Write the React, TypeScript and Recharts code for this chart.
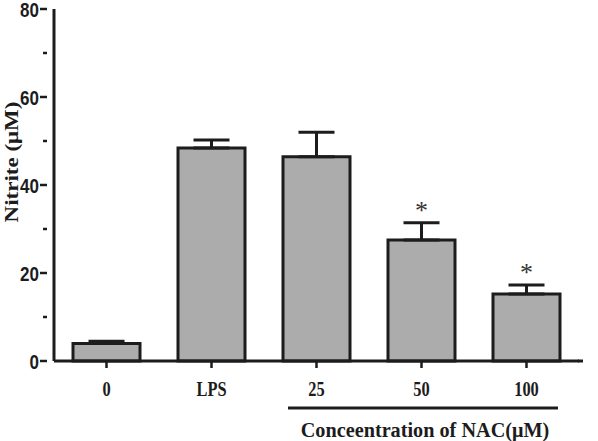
import React from 'react';
import { ComposedChart, Bar, ErrorBar, Line, XAxis, YAxis } from 'recharts';

const categories = ['0', 'LPS', '25', '50', '100'];
const means = [4.0, 48.4, 46.4, 27.5, 15.2];
const sems = [0.5, 1.8, 5.6, 3.9, 2.1];
const significant = [false, false, false, true, true];
const yTicks = [0, 10, 20, 30, 40, 50, 60, 70, 80];
const yLabelTicks = [0, 20, 40, 60, 80];

const data = categories.map((c, i) => ({
  name: c,
  mean: means[i],
  err: [0, sems[i]],
  star: significant[i] ? means[i] + sems[i] : null,
}));

const INK = '#1c1c1c';
const SERIF = "'Liberation Serif', 'Times New Roman', serif";
const SANS = "'Liberation Sans', Arial, sans-serif";

const YTick = (props: any) => {
  const { x, y, payload } = props;
  const major = yLabelTicks.includes(payload.value);
  return (
    <g>
      <line x1={x - (major ? 6 : 3)} x2={x + 1} y1={y} y2={y} stroke={INK} strokeWidth={2.5} />
      {major && (
        <text
          transform={`translate(${x - 7},${y + 8}) scale(0.85,1)`}
          textAnchor="end"
          fontFamily={SANS}
          fontWeight="bold"
          fontSize={20}
          fill={INK}
        >
          {payload.value}
        </text>
      )}
    </g>
  );
};

const XTick = (props: any) => {
  const { x, y, payload } = props;
  return (
    <g>
      <line x1={x} x2={x} y1={y - 8} y2={y - 1} stroke={INK} strokeWidth={2.5} />
      <text
        transform={`translate(${x},${y + 27}) scale(0.82,1)`}
        textAnchor="middle"
        fontFamily={SERIF}
        fontWeight="bold"
        fontSize={20}
        fill={INK}
      >
        {payload.value}
      </text>
    </g>
  );
};

const StarDot = (props: any) => {
  const { cx, cy, value } = props;
  if (value === null || value === undefined || cy == null) return <g />;
  return (
    <text x={cx} y={cy - 4} textAnchor="middle" fontFamily={SERIF} fontSize={26} fill="#333">
      *
    </text>
  );
};

export default function App() {
  return (
    <div style={{ position: 'absolute', left: 0, top: 0, width: 598, height: 441, background: '#fff' }}>
      <ComposedChart
        width={598}
        height={441}
        data={data}
        margin={{ top: 9, right: 19, bottom: 50, left: 0 }}
      >
        <XAxis
          dataKey="name"
          axisLine={{ stroke: INK, strokeWidth: 3 }}
          tickLine={false}
          tick={<XTick />}
          height={30}
          interval={0}
        />
        <YAxis
          domain={[0, 80]}
          ticks={yTicks}
          width={54}
          axisLine={{ stroke: INK, strokeWidth: 3 }}
          tickLine={false}
          tick={<YTick />}
          interval={0}
        />
        <Bar dataKey="mean" fill="#acacac" stroke={INK} strokeWidth={3} barSize={67} isAnimationActive={false}>
          <ErrorBar dataKey="err" width={18} stroke={INK} strokeWidth={3} direction="y" />
        </Bar>
        <Line
          dataKey="star"
          stroke="none"
          dot={<StarDot />}
          activeDot={false}
          connectNulls={false}
          isAnimationActive={false}
          legendType="none"
        />
      </ComposedChart>
      <svg width={598} height={441} style={{ position: 'absolute', left: 0, top: 0, pointerEvents: 'none' }}>
        <text
          transform="translate(18,162) rotate(-90) scale(1,0.8)"
          textAnchor="middle"
          fontFamily={SERIF}
          fontWeight="bold"
          fontSize={23}
          fill={INK}
        >
          {'Nitrite (\u03bcM)'}
        </text>
        <line x1={578} x2={583} y1={361} y2={361} stroke={INK} strokeWidth={3} />
        <line x1={288} x2={558} y1={408} y2={408} stroke={INK} strokeWidth={3} />
        <text
          transform="translate(425,437) scale(0.92,1)"
          textAnchor="middle"
          fontFamily={SERIF}
          fontWeight="bold"
          fontSize={22}
          fill={INK}
        >
          {'Conceentration of NAC(\u03bcM)'}
        </text>
      </svg>
    </div>
  );
}
